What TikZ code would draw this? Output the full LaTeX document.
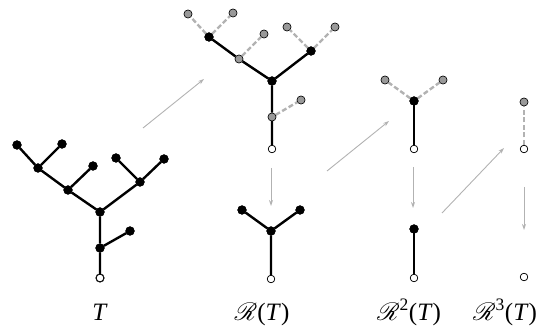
\documentclass[tikz,border=0pt]{standalone}
\usepackage{fontspec}
\setmainfont{Liberation Serif}
\usepackage{mathrsfs}
\usetikzlibrary{arrows.meta}
\tikzset{
  blk/.style={circle,fill=black,draw=black,line width=0.5pt,inner sep=0pt,minimum size=8.5pt},
  gry/.style={circle,fill=black!40,draw=black,line width=0.5pt,inner sep=0pt,minimum size=8pt},
  wht/.style={circle,fill=white,draw=black,line width=0.6pt,inner sep=0pt,minimum size=7.5pt},
  solidedge/.style={line width=2.4pt,black},
  dashedge/.style={line width=2.4pt,black!30,dash pattern=on 5pt off 2.5pt},
  maparrow/.style={line width=0.9pt,black!30,-{Stealth[length=6pt,width=4pt]}},
  lbl/.style={anchor=base,inner sep=0pt,font=\fontsize{25}{28}\selectfont}
}
\begin{document}
\begin{tikzpicture}[x=1pt,y=-1pt]
\useasboundingbox (0,0) rectangle (556,328);
% ---- T ----
\node[wht] (t0) at (100,278) {};
\node[blk] (t1) at (100,248) {};
\node[blk] (t1l) at (130,231) {};
\node[blk] (t2) at (100,212) {};
\node[blk] (tR) at (140,182) {};
\node[blk] (tRa) at (116,158) {};
\node[blk] (tRb) at (164,159) {};
\node[blk] (tL) at (68,190) {};
\node[blk] (tLa) at (93,166) {};
\node[blk] (tLL) at (38,168) {};
\node[blk] (tLLa) at (17,145) {};
\node[blk] (tLLb) at (62,144) {};
\draw[solidedge] (t0) -- (t1) (t1) -- (t1l) (t1) -- (t2) (t2) -- (tR) (tR) -- (tRa) (tR) -- (tRb)
  (t2) -- (tL) (tL) -- (tLa) (tL) -- (tLL) (tLL) -- (tLLa) (tLL) -- (tLLb);
% ---- R(T) top ----
\node[wht] (r0) at (272,149) {};
\node[gry] (r1) at (272,117) {};
\node[gry] (r1l) at (301,100) {};
\node[blk] (r2) at (272,81) {};
\node[blk] (rR) at (311,51) {};
\node[gry] (rRa) at (287,27) {};
\node[gry] (rRb) at (335,27) {};
\node[gry] (rL) at (239,59) {};
\node[gry] (rLa) at (264,34) {};
\node[blk] (rLL) at (209,37) {};
\node[gry] (rLLa) at (188,14) {};
\node[gry] (rLLb) at (233,13) {};
\draw[solidedge] (r0) -- (r1) (r1) -- (r2) (r2) -- (rR) (r2) -- (rL) (rL) -- (rLL);
\draw[dashedge] (r1) -- (r1l) (rR) -- (rRa) (rR) -- (rRb) (rL) -- (rLa) (rLL) -- (rLLa) (rLL) -- (rLLb);
% ---- R(T) bottom ----
\node[wht] (b0) at (271,279) {};
\node[blk] (b1) at (271,231) {};
\node[blk] (bl) at (242,210) {};
\node[blk] (br) at (300,210) {};
\draw[solidedge] (b0) -- (b1) (b1) -- (bl) (b1) -- (br);
% ---- R^2 top ----
\node[wht] (s0) at (414,149) {};
\node[blk] (s1) at (414,101) {};
\node[gry] (sa) at (385,80) {};
\node[gry] (sb) at (443,80) {};
\draw[solidedge] (s0) -- (s1);
\draw[dashedge] (s1) -- (sa) (s1) -- (sb);
% ---- R^2 bottom ----
\node[wht] (u0) at (414,278) {};
\node[blk] (u1) at (414,229) {};
\draw[solidedge] (u0) -- (u1);
% ---- R^3 top ----
\node[wht] (v0) at (524,149) {};
\node[gry] (v1) at (524,102) {};
\draw[dashedge] (v0) -- (v1);
% ---- R^3 bottom ----
\node[wht] (w0) at (524,277) {};
% redraw nodes on top of edges
\foreach \n in {t0,t1,t1l,t2,tR,tRa,tRb,tL,tLa,tLL,tLLa,tLLb,r2,rR,rLL,b1,bl,br,s1,u1}
  \node[blk] at (\n) {};
\foreach \n in {r1,r1l,rRa,rRb,rL,rLa,rLLa,rLLb,sa,sb,v1}
  \node[gry] at (\n) {};
\foreach \n in {t0,r0,b0,s0,u0,v0,w0}
  \node[wht] at (\n) {};
% ---- arrows ----
\coordinate (a1s) at (143,128); \coordinate (a1e) at (204,79);
\coordinate (a2s) at (271,168); \coordinate (a2e) at (271,206);
\coordinate (a3s) at (327,171); \coordinate (a3e) at (389,121);
\coordinate (a4s) at (413,167); \coordinate (a4e) at (413,208);
\coordinate (a5s) at (442,213); \coordinate (a5e) at (504,148);
\coordinate (a6s) at (524,187); \coordinate (a6e) at (524,230);
\draw[maparrow] (a1s) -- (a1e);
\draw[maparrow] (a2s) -- (a2e);
\draw[maparrow] (a3s) -- (a3e);
\draw[maparrow] (a4s) -- (a4e);
\draw[maparrow] (a5s) -- (a5e);
\draw[maparrow] (a6s) -- (a6e);
% ---- labels ----
\node[lbl] (lT) at (100,320) {\textit{T}};
\node[lbl] (lR1) at (262,320) {$\mathscr{R}$(\textit{T})};
\node[lbl] (lR2) at (409,320) {$\mathscr{R}$\textsuperscript{2}(\textit{T})};
\node[lbl] (lR3) at (505,320) {$\mathscr{R}$\textsuperscript{3}(\textit{T})};
\end{tikzpicture}
\end{document}
